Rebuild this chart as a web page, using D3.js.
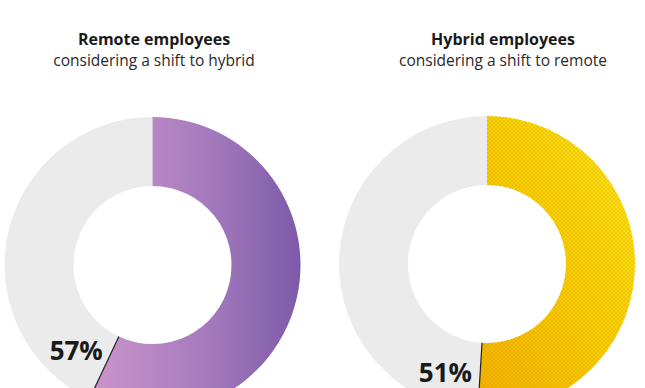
<!DOCTYPE html>
<html>
<head>
<meta charset="utf-8">
<script src="https://cdn.jsdelivr.net/npm/d3@7"></script>
<style>
  html, body { margin: 0; padding: 0; background: #fff; overflow: hidden; }
  svg { display: block; font-family: "Open Sans", "Noto Sans", sans-serif; }
</style>
</head>
<body>
<div id="chart"></div>
<script>
// data
var groups = ["Remote employees", "Hybrid employees"];
var subtitles = ["considering a shift to hybrid", "considering a shift to remote"];
var shares = [57, 51];
var labels = ["57%", "51%"];

var width = 645, height = 388;

var svg = d3.select("#chart").append("svg")
    .attr("width", width)
    .attr("height", height);

var defs = svg.append("defs");

// purple gradient
var gPurple = defs.append("linearGradient")
    .attr("id", "grad-purple")
    .attr("x1", "0%").attr("x2", "100%")
    .attr("y1", "0%").attr("y2", "0%");
gPurple.append("stop").attr("offset", "0%").attr("stop-color", "#cc95cb");
gPurple.append("stop").attr("offset", "55%").attr("stop-color", "#a57bbd");
gPurple.append("stop").attr("offset", "100%").attr("stop-color", "#7d5aa9");

// yellow gradient
var gYellow = defs.append("linearGradient")
    .attr("id", "grad-yellow")
    .attr("x1", "0%").attr("x2", "100%")
    .attr("y1", "100%").attr("y2", "0%");
gYellow.append("stop").attr("offset", "0%").attr("stop-color", "#f4b000");
gYellow.append("stop").attr("offset", "50%").attr("stop-color", "#f9cf00");
gYellow.append("stop").attr("offset", "100%").attr("stop-color", "#ffec1c");

// halftone dots for the yellow ring
var dots = defs.append("pattern")
    .attr("id", "dots")
    .attr("width", 4).attr("height", 4)
    .attr("patternUnits", "userSpaceOnUse");
dots.append("circle")
    .attr("cx", 1).attr("cy", 1).attr("r", 0.9)
    .attr("fill", "#d69a00").attr("opacity", 0.5);
dots.append("circle")
    .attr("cx", 3).attr("cy", 3).attr("r", 0.9)
    .attr("fill", "#d69a00").attr("opacity", 0.5);

var fills = ["url(#grad-purple)", "url(#grad-yellow)"];

// donut layout
var centers = [{ x: 152.5, y: 265 }, { x: 487, y: 264 }];
var titleX = [154, 503];
var outerR = 148, innerR = 79;

var pie = d3.pie().sort(null).value(function (d) { return d; });
var arc = d3.arc().innerRadius(innerR).outerRadius(outerR);

shares.forEach(function (share, i) {
    var c = centers[i];
    var g = svg.append("g")
        .attr("transform", "translate(" + c.x + "," + c.y + ")");

    var slices = pie([share, 100 - share]);

    // gray remainder
    g.append("path")
        .attr("d", arc(slices[1]))
        .attr("fill", "#ebebeb");

    // highlighted share
    g.append("path")
        .attr("d", arc(slices[0]))
        .attr("fill", fills[i]);

    if (i == 1) {
        g.append("path")
            .attr("d", arc(slices[0]))
            .attr("fill", "url(#dots)");
    }

    // divider line at the end of the share
    var a = slices[0].endAngle;
    g.append("line")
        .attr("x1", innerR * Math.sin(a))
        .attr("y1", -innerR * Math.cos(a))
        .attr("x2", outerR * Math.sin(a))
        .attr("y2", -outerR * Math.cos(a))
        .attr("stroke", "#222")
        .attr("stroke-width", 1.2);

    // percent label, just left of the divider
    var lr = i == 0 ? 98 : 112;
    g.append("text")
        .attr("x", lr * Math.sin(a) - 8)
        .attr("y", -lr * Math.cos(a) + 6)
        .attr("text-anchor", "end")
        .style("font-size", "26px")
        .style("font-weight", "bold")
        .style("fill", "#1a1a1a")
        .text(labels[i]);

    // titles
    svg.append("text")
        .attr("x", titleX[i])
        .attr("y", 45)
        .attr("text-anchor", "middle")
        .style("font-size", "16px")
        .style("font-weight", "bold")
        .style("fill", "#1a1a1a")
        .text(groups[i]);

    svg.append("text")
        .attr("x", titleX[i])
        .attr("y", 66)
        .attr("text-anchor", "middle")
        .style("font-size", "15.5px")
        .style("fill", "#2a2a2a")
        .text(subtitles[i]);
});
</script>
</body>
</html>
